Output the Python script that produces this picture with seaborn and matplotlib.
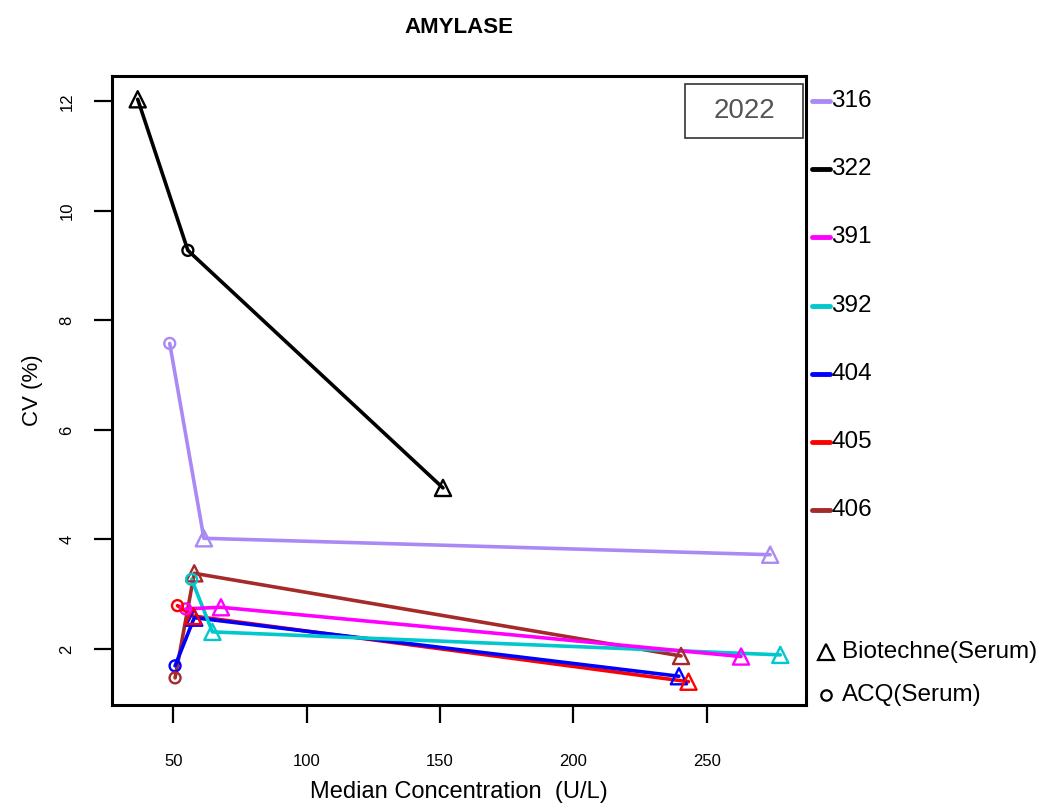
import numpy as np
import pandas as pd
import matplotlib
matplotlib.use("Agg")
import matplotlib.pyplot as plt
from matplotlib.lines import Line2D
from matplotlib.patches import Rectangle
import seaborn as sns

# ---- data ----
labs = ["316", "322", "391", "392", "404", "405", "406"]
lab_colors = ["#A98AF5", "#000000", "#FF00FF", "#00C8CD", "#0000FF", "#FF0000", "#A52A2A"]

# per-lab points: (method, median concentration, CV)
lab_316_method = ["ACQ(Serum)", "Biotechne(Serum)", "Biotechne(Serum)"]
lab_316_x = [48.7, 61.5, 273.7]
lab_316_y = [7.58, 4.02, 3.72]

lab_322_method = ["Biotechne(Serum)", "ACQ(Serum)", "Biotechne(Serum)"]
lab_322_x = [36.7, 55.5, 151.1]
lab_322_y = [12.04, 9.28, 4.94]

lab_391_method = ["ACQ(Serum)", "Biotechne(Serum)", "Biotechne(Serum)"]
lab_391_x = [54.7, 67.9, 262.8]
lab_391_y = [2.73, 2.76, 1.86]

lab_392_method = ["ACQ(Serum)", "Biotechne(Serum)", "Biotechne(Serum)"]
lab_392_x = [56.9, 64.7, 277.5]
lab_392_y = [3.27, 2.31, 1.89]

lab_404_method = ["ACQ(Serum)", "Biotechne(Serum)", "Biotechne(Serum)"]
lab_404_x = [50.7, 57.9, 239.5]
lab_404_y = [1.69, 2.57, 1.50]

lab_405_method = ["ACQ(Serum)", "Biotechne(Serum)", "Biotechne(Serum)"]
lab_405_x = [51.6, 57.5, 243.1]
lab_405_y = [2.79, 2.60, 1.40]

lab_406_method = ["ACQ(Serum)", "Biotechne(Serum)", "Biotechne(Serum)"]
lab_406_x = [50.7, 57.9, 240.3]
lab_406_y = [1.47, 3.38, 1.87]

methods = ["Biotechne(Serum)", "ACQ(Serum)"]
method_markers = ["^", "o"]
x_ticks = [50, 100, 150, 200, 250]
y_ticks = [2, 4, 6, 8, 10, 12]

rows = []
for lab, m, xs, ys in [
    ("316", lab_316_method, lab_316_x, lab_316_y),
    ("322", lab_322_method, lab_322_x, lab_322_y),
    ("391", lab_391_method, lab_391_x, lab_391_y),
    ("392", lab_392_method, lab_392_x, lab_392_y),
    ("404", lab_404_method, lab_404_x, lab_404_y),
    ("405", lab_405_method, lab_405_x, lab_405_y),
    ("406", lab_406_method, lab_406_x, lab_406_y),
]:
    for mm, xx, yy in zip(m, xs, ys):
        rows.append({"lab": lab, "method": mm, "median": xx, "cv": yy})
df = pd.DataFrame(rows)
palette = dict(zip(labs, lab_colors))
draw_order = labs[::-1]  # later labs drawn underneath

# ---- style ----
sns.set_style("white")
plt.rcParams["font.family"] = ["Liberation Sans", "DejaVu Sans"]
plt.rcParams["text.color"] = "black"
plt.rcParams["axes.labelcolor"] = "black"
plt.rcParams["xtick.color"] = "black"
plt.rcParams["ytick.color"] = "black"

fig = plt.figure(figsize=(10.47, 8.08), dpi=100)
ax = fig.add_axes([112 / 1047, 1 - 705 / 808, (806 - 112) / 1047, (705 - 76) / 808])

sns.lineplot(data=df, x="median", y="cv", hue="lab", hue_order=draw_order, palette=palette,
             estimator=None, sort=True, lw=2.6, legend=False, ax=ax)

n_before = len(ax.collections)
for meth, mk in zip(methods, method_markers):
    sub = df[df["method"] == meth]
    sns.scatterplot(data=sub, x="median", y="cv", hue="lab", hue_order=draw_order, palette=palette,
                    marker=mk, s=(135 if mk == "^" else 62), legend=False, ax=ax, zorder=3)
for coll in ax.collections[n_before:]:
    fc = coll.get_facecolors()
    coll.set_edgecolors(fc)
    coll.set_facecolors("none")
    coll.set_linewidths(1.7)

# axes limits (R-style 4% extension)
xmin, xmax = df["median"].min(), df["median"].max()
ymin, ymax = df["cv"].min(), df["cv"].max()
dx, dy = 0.04 * (xmax - xmin), 0.04 * (ymax - ymin)
ax.set_xlim(xmin - dx, xmax + dx)
ax.set_ylim(ymin - dy, ymax + dy)

ax.set_xticks(x_ticks)
ax.set_yticks(y_ticks)
ax.set_xticklabels([str(t) for t in x_ticks], fontsize=12)
ax.set_yticklabels([str(t) for t in y_ticks], fontsize=12, rotation=90, va="center")
ax.tick_params(axis="x", length=13, width=1.6, pad=22, direction="out", bottom=True)
ax.tick_params(axis="y", length=13, width=1.6, pad=14, direction="out", left=True)
for sp in ax.spines.values():
    sp.set_visible(True)
    sp.set_linewidth(2.2)
    sp.set_color("black")

ax.set_xlabel("Median Concentration  (U/L)", fontsize=17, labelpad=9)
ax.set_ylabel("CV (%)", fontsize=16, labelpad=12)
ax.set_title("AMYLASE", fontsize=16, fontweight="bold", pad=31)

# year box
ax.add_patch(Rectangle((0.826, 0.901), 0.170, 0.086, transform=ax.transAxes,
                       fill=False, edgecolor="#333333", lw=1.2, zorder=5))
ax.text(0.911, 0.944, "2022", transform=ax.transAxes, ha="center", va="center",
        fontsize=20, color="#555555", zorder=6)

# legend (outside right)
y0, step = 101, 68.2
for i, (lab, col) in enumerate(zip(labs, lab_colors)):
    yy = 1 - (y0 + i * step) / 808
    fig.add_artist(Line2D([812 / 1047, 830 / 1047], [yy, yy], color=col, lw=3.5,
                          solid_capstyle="round", transform=fig.transFigure))
    fig.text(831 / 1047, yy, lab, fontsize=17.5, va="center", ha="left")

for meth, mk, ypx, ms in zip(methods, method_markers, [652, 695], [11, 7.5]):
    yy = 1 - ypx / 808
    fig.add_artist(Line2D([826 / 1047], [yy], marker=mk, markersize=ms, mfc="none",
                          mec="black", mew=1.6, ls="none", transform=fig.transFigure))
    fig.text(842 / 1047, yy, meth, fontsize=17.5, va="center", ha="left")

fig.savefig("out.png", dpi=100)
